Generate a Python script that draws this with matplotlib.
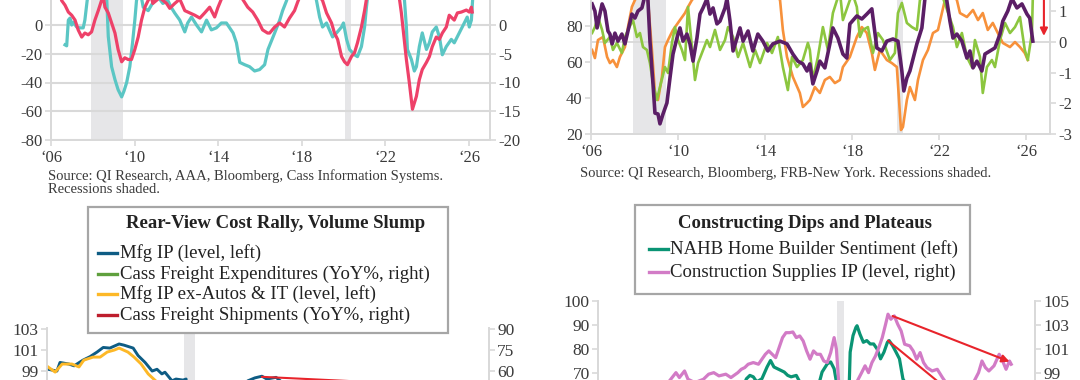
import matplotlib
matplotlib.use("Agg")
import matplotlib.pyplot as plt
from matplotlib.lines import Line2D
from matplotlib.patches import Rectangle

plt.rcParams['font.family'] = ['Liberation Serif', 'DejaVu Serif']
plt.rcParams['axes.unicode_minus'] = False

W, H = 1080, 380

recessions = [(2007.92, 2009.46), (2020.08, 2020.33)]
year_ticks = [2006, 2010, 2014, 2018, 2022, 2026]
year_labels = ['\u2018%02d' % (y % 100) for y in year_ticks]

# ---- top left: two YoY series (teal left axis, pink right axis) ----
tl_teal_x = [2006.67, 2006.75, 2006.83, 2006.91, 2006.99, 2007.06, 2007.23, 2007.38, 2007.54, 2007.62,
             2007.73, 2007.9, 2008.2, 2008.5, 2008.67, 2008.74, 2008.90, 2009.06, 2009.21, 2009.38,
             2009.49, 2009.62, 2009.77, 2009.90, 2010.01, 2010.09, 2010.25, 2010.41, 2010.65, 2010.81,
             2011.1, 2011.35, 2011.59, 2011.76, 2011.92, 2012.16, 2012.40, 2012.54, 2012.72, 2012.96,
             2013.20, 2013.44, 2013.67, 2013.91, 2014.15, 2014.39, 2014.71, 2014.87, 2015.03, 2015.26,
             2015.50, 2015.74, 2015.98, 2016.22, 2016.38, 2016.70, 2016.94, 2017.08, 2017.27, 2017.6,
             2018.0, 2018.5, 2018.70, 2018.85, 2018.99, 2019.18, 2019.32, 2019.47, 2019.66, 2019.90,
             2019.99, 2020.14, 2020.28, 2020.52, 2020.66, 2020.85, 2021.00, 2021.09, 2021.3, 2021.7,
             2022.2, 2022.8, 2022.91, 2023.00, 2023.05, 2023.24, 2023.38, 2023.48, 2023.62, 2023.76,
             2023.96, 2024.10, 2024.24, 2024.43, 2024.58, 2024.72, 2024.91, 2025.15, 2025.29, 2025.53,
             2025.77, 2025.91, 2026.01, 2026.11, 2026.2]
tl_teal_y = [-13.8, -14.5, 3.4, 4.8, 0, 2, -1.4, -2, -2, 3.4,
             17, 30, 40, 35, 17, -8, -29, -38, -45, -50,
             -46, -40, -29, -12.4, 3.4, 17, 25, 12.4, 10, 14,
             20, 15, 17, 12, 8.3, 3.4, -4.8, 1.4, 5.5, 0,
             -4.8, 3.4, -3.4, -2, 1.4, 1.4, -5.5, -12.4, -26, -27.6,
             -29, -32, -31, -27.6, -17, -5.5, 3.4, 10, 17, 35,
             40, 30, 17, 5.5, -1.4, 1.4, -3.4, -8.3, -5.5, -1.4,
             1.4, -10, -17, -20.7, -22, -15, -1.4, 12.4, 40, 60,
             55, 30, 17, -1.4, -17, -24, -32, -29, -15, -5.5,
             -17, -12.4, -4.8, -1.4, -8.3, -20.7, -15, -10, -12.4, -5.5,
             1.4, 5.5, -1.4, 3.4, 25]
tl_pink_x = [2006.3, 2006.51, 2006.67, 2006.83, 2006.99, 2007.15, 2007.30, 2007.47, 2007.62, 2007.78,
             2007.94, 2008.10, 2008.26, 2008.42, 2008.50, 2008.58, 2008.74, 2008.90, 2009.06, 2009.21,
             2009.38, 2009.53, 2009.69, 2009.85, 2010.01, 2010.17, 2010.33, 2010.49, 2010.65, 2010.8,
             2010.87, 2011.2, 2011.53, 2011.68, 2011.92, 2012.16, 2012.40, 2012.64, 2012.88, 2013.12,
             2013.35, 2013.59, 2013.83, 2013.98, 2014.15, 2014.5, 2014.9, 2015.41, 2015.65, 2015.89,
             2016.12, 2016.36, 2016.46, 2016.70, 2016.94, 2017.17, 2017.41, 2017.65, 2017.80, 2018.2,
             2018.6, 2018.99, 2019.18, 2019.42, 2019.56, 2019.71, 2019.90, 2020.04, 2020.18, 2020.37,
             2020.52, 2020.66, 2020.85, 2021.00, 2021.09, 2021.5, 2022.0, 2022.5, 2022.67, 2022.76,
             2023.00, 2023.14, 2023.29, 2023.48, 2023.62, 2023.76, 2023.96, 2024.10, 2024.24, 2024.43,
             2024.58, 2024.72, 2024.91, 2025.05, 2025.29, 2025.44, 2025.63, 2025.87, 2026.01, 2026.11,
             2026.15]
tl_pink_y = [7.5, 4.25, 3.45, 2.25, 1.7, 0.85, -0.85, -2.1, -1.4, -1.7,
             -1.2, 0.85, 2.5, 4.3, 5.0, 3.1, 2.1, 0.35, -1.4, -4.25,
             -6.4, -5.7, -6.0, -6.0, -4.25, -2.1, 0.85, 3.1, 4.3, 5.0,
             3.75, 4.75, 3.75, 2.9, 3.75, 4.5, 2.5, 2.1, 1.7, 1.2,
             2.1, 3.1, 1.4, 3.0, 4.5, 7.0, 6.0, 3.1, 2.25, 0.85,
             -0.85, -1.4, -1.4, -0.35, 0.35, -0.35, 1.2, 2.5, 4.0, 7.5,
             6.25, 4.25, 2.1, 0.35, -1.4, -2.5, -5.5, -6.4, -6.9, -5.5,
             -4.8, -3.1, -0.35, 2.5, 4.5, 12.5, 15, 10, 4.5, 2.1,
             -6.0, -10, -14.65, -12.4, -9.5, -7.75, -6.5, -5.5, -3.75, -2.1,
             -2.5, -1.4, -0.35, 1.7, 0.85, 2.1, 2.25, 2.6, 2.25, 3.1,
             2.25]

# ---- top right: orange & green (left axis), purple (right axis) ----
tr_orange_x = [2006.05, 2006.18, 2006.32, 2006.55, 2006.74, 2006.87, 2007.01, 2007.19, 2007.33, 2007.56,
               2007.70, 2007.88, 2008.02, 2008.3, 2008.62, 2008.80, 2008.94, 2009.08, 2009.26, 2009.40,
               2009.54, 2009.77, 2010.09, 2010.32, 2010.46, 2010.64, 2011.2, 2012.0, 2012.8, 2013.6,
               2014.3, 2014.69, 2014.82, 2015.01, 2015.28, 2015.60, 2015.74, 2015.93, 2016.06, 2016.29,
               2016.52, 2016.75, 2016.98, 2017.21, 2017.44, 2017.58, 2017.90, 2018.22, 2018.45, 2018.68,
               2018.91, 2019.05, 2019.28, 2019.60, 2019.83, 2020.06, 2020.25, 2020.34, 2020.52, 2020.66,
               2020.89, 2021.03, 2021.26, 2021.49, 2021.72, 2021.95, 2022.13, 2022.27, 2022.5, 2022.82,
               2022.96, 2023.28, 2023.56, 2023.79, 2024.01, 2024.24, 2024.47, 2024.70, 2024.93, 2025.26,
               2025.49, 2025.72, 2025.94, 2026.08]
tr_orange_y = [66.7, 62.2, 72.2, 73.9, 62.8, 59.4, 61.1, 57.2, 62.8, 68.3,
               79.4, 90.6, 94.4, 100, 94.4, 66.7, 42.8, 38.9, 51.7, 68.3,
               72.2, 77.8, 83.3, 87.2, 90.6, 94.4, 102, 98, 104, 99,
               101, 94.4, 77.8, 62.8, 51.7, 42.8, 35.0, 37.2, 38.9, 46.1,
               42.8, 50.0, 51.7, 48.3, 50.0, 57.2, 62.8, 73.9, 79.4, 76.1,
               65.0, 55.6, 66.7, 61.1, 59.4, 57.2, 22.2, 23.9, 38.9, 46.1,
               38.9, 50.0, 61.1, 66.7, 76.1, 77.8, 87.2, 94.4, 100, 94.4,
               87.2, 85.0, 88.9, 83.3, 87.2, 77.8, 81.7, 76.1, 70.6, 68.3,
               71.1, 68.3, 65.0, 61.1]
tr_green_x = [2006.05, 2006.18, 2006.32, 2006.51, 2006.64, 2006.87, 2007.01, 2007.19, 2007.42, 2007.56,
              2007.70, 2007.93, 2008.11, 2008.25, 2008.39, 2008.57, 2008.71, 2008.85, 2009.03, 2009.17,
              2009.40, 2009.54, 2009.72, 2009.86, 2010.00, 2010.18, 2010.32, 2010.46, 2010.64, 2010.78,
              2010.92, 2011.10, 2011.33, 2011.47, 2011.70, 2011.93, 2012.16, 2012.30, 2012.53, 2012.76,
              2012.99, 2013.31, 2013.54, 2013.77, 2014.09, 2014.32, 2014.59, 2014.82, 2015.05, 2015.24,
              2015.47, 2015.74, 2015.97, 2016.06, 2016.20, 2016.43, 2016.66, 2016.89, 2017.12, 2017.31,
              2017.45, 2017.58, 2017.90, 2018.05, 2018.22, 2018.36, 2018.50, 2018.73, 2018.96, 2019.19,
              2019.42, 2019.74, 2019.97, 2020.11, 2020.29, 2020.52, 2020.75, 2020.98, 2021.12, 2021.5,
              2022.0, 2022.64, 2022.82, 2023.05, 2023.28, 2023.51, 2023.65, 2023.88, 2024.01, 2024.20,
              2024.43, 2024.57, 2024.80, 2025.03, 2025.26, 2025.49, 2025.72, 2025.94, 2026.08, 2026.27,
              2026.31]
tr_green_y = [76.1, 79.4, 85.0, 77.8, 70.6, 73.9, 66.7, 70.6, 65.0, 73.9,
              77.8, 83.3, 73.9, 76.1, 68.3, 66.7, 59.4, 48.3, 38.9, 46.1,
              57.2, 53.9, 70.6, 79.4, 72.2, 66.7, 61.1, 90.6, 68.3, 50.0,
              59.4, 65.0, 72.2, 68.3, 77.8, 66.7, 72.2, 79.4, 73.9, 62.8,
              70.6, 57.2, 66.7, 59.4, 70.6, 65.0, 73.9, 57.2, 44.4, 62.8,
              57.2, 61.1, 70.6, 66.7, 50.0, 62.8, 79.4, 66.7, 87.2, 94.4,
              98, 83.3, 94.4, 97, 90.6, 73.9, 77.8, 79.4, 65.0, 76.1,
              72.2, 61.1, 65.0, 87.2, 92.8, 81.7, 79.4, 77.8, 94.4, 100,
              102, 79.4, 68.3, 76.1, 62.8, 57.2, 72.2, 62.8, 42.8, 57.2,
              61.1, 57.2, 72.2, 81.7, 76.1, 79.4, 85.0, 66.7, 61.1, 76.1,
              96]
tr_purple_x = [2006.05, 2006.18, 2006.28, 2006.41, 2006.51, 2006.64, 2006.78, 2006.87, 2006.97, 2007.10,
               2007.24, 2007.42, 2007.56, 2007.70, 2007.88, 2008.02, 2008.16, 2008.34, 2008.48, 2008.6,
               2008.71, 2008.85, 2008.94, 2009.08, 2009.17, 2009.31, 2009.49, 2009.63, 2009.77, 2009.95,
               2010.09, 2010.23, 2010.41, 2010.55, 2010.69, 2010.87, 2011.01, 2011.15, 2011.33, 2011.47,
               2011.61, 2011.79, 2011.93, 2012.16, 2012.25, 2012.39, 2012.53, 2012.71, 2012.85, 2012.99,
               2013.22, 2013.44, 2013.67, 2013.90, 2014.13, 2014.36, 2014.69, 2015.01, 2015.28, 2015.51,
               2015.74, 2015.93, 2016.06, 2016.20, 2016.39, 2016.52, 2016.75, 2016.98, 2017.12, 2017.35,
               2017.58, 2017.76, 2017.90, 2018.22, 2018.45, 2018.68, 2018.91, 2019.14, 2019.37, 2019.60,
               2019.88, 2020.11, 2020.29, 2020.38, 2020.52, 2020.66, 2020.98, 2021.21, 2021.35, 2021.6,
               2022.0, 2022.3, 2022.50, 2022.64, 2022.82, 2023.05, 2023.28, 2023.42, 2023.56, 2023.74,
               2023.97, 2024.11, 2024.34, 2024.57, 2024.80, 2024.93, 2025.16, 2025.35, 2025.58, 2025.81,
               2026.04, 2026.17, 2026.31]
tr_purple_y = [1.23, 1.0, 0.45, 0.90, 1.23, 1.0, 0.35, 0.25, -0.07, 0.28,
               0.02, 0.25, -0.07, 0.35, 0.90, 0.77, 1.0, 1.10, 1.5, 1.6,
               0.02, -1.37, -2.32, -2.35, -2.67, -2.35, -1.99, -1.18, -0.40, 0.12,
               0.45, 0.02, 0.25, -0.07, -0.63, 0.12, 0.90, 1.10, 1.4, 0.90,
               1.10, 0.58, 0.67, 1.10, 1.4, 0.67, -0.30, 0.12, 0.45, 0.02,
               0.35, -0.30, 0.25, 0.02, -0.30, -0.07, 0.02, -0.07, -0.40, -0.63,
               -0.72, -0.95, -0.72, -1.37, -0.95, -0.63, -0.85, -0.07, 0.45, 0.12,
               -0.40, -0.53, 0.58, 0.84, 0.74, 0.90, 1.07, -0.20, -0.30, 0.02,
               0.09, 0.02, -0.95, -1.60, -1.18, -0.95, -0.07, 0.45, 1.4, 1.8,
               2.0, 1.6, 0.67, 0.12, 0.25, 0.02, -0.53, -0.30, -0.85, -0.63,
               -0.95, -0.40, -0.30, -0.20, 0.25, 0.67, 1.0, 1.4, 1.10, 1.23,
               0.90, 0.77, 0.02]
tr_arrow = (2026.82, 2.0, 0.19)   # x, from, to (right axis)

# ---- bottom left: Rear-View Cost Rally, Volume Slump ----
bl_mfg_x = [2017.0, 2017.2, 2017.27, 2017.47, 2017.59, 2017.79, 2017.95, 2018.11, 2018.25, 2018.40,
            2018.61, 2018.72, 2018.93, 2019.04, 2019.20, 2019.36, 2019.47, 2019.58, 2019.65, 2019.81,
            2019.90, 2020.06, 2020.13, 2020.25, 2020.33, 2020.5, 2020.8, 2021.0, 2021.3, 2021.53,
            2021.69, 2021.85, 2021.96, 2022.17, 2022.28, 2022.6, 2023.0, 2023.5, 2024.0, 2024.5,
            2025.0, 2025.5, 2026.0]
bl_mfg_y = [99.17, 99.0, 99.82, 99.67, 99.5, 100.04, 100.37, 100.81, 101.25, 101.19,
            101.58, 101.47, 101.19, 100.48, 99.82, 99.0, 99.17, 98.73, 98.89, 98.07,
            98.24, 98.14, 98.24, 89.0, 83.0, 90.0, 94.2, 95.9, 97.1, 98.07,
            98.35, 98.51, 98.24, 98.4, 98.02, 97.74, 97.3, 97.1, 96.9, 97.0,
            97.1, 97.2, 97.3]
bl_exauto_x = [2017.0, 2017.16, 2017.32, 2017.54, 2017.7, 2017.81, 2018.02, 2018.18, 2018.34, 2018.5,
               2018.61, 2018.81, 2018.95, 2019.11, 2019.27, 2019.42, 2019.6, 2019.9, 2020.1, 2020.3,
               2020.5, 2021.0, 2022.0, 2023.0, 2024.0, 2025.0, 2026.0]
bl_exauto_y = [99.39, 98.9, 99.67, 99.67, 99.39, 100.04, 100.33, 100.33, 100.81, 101.0,
               101.19, 100.81, 100.33, 99.67, 98.73, 98.14, 97.5, 97.3, 97.1, 81.0,
               89.0, 94.2, 96.4, 95.9, 95.6, 95.9, 96.1]
bl_cass_exp_x = [2017.0, 2017.5, 2018.0, 2018.5, 2019.0, 2019.5, 2020.0, 2020.4, 2020.8, 2021.3,
                 2021.8, 2022.3, 2022.8, 2023.3, 2023.8, 2024.3, 2024.8, 2025.3, 2025.9]
bl_cass_exp_y = [2, 8, 15, 18, 4, -4, -8, -18, -6, 22,
                 32, 35, 12, -18, -24, -20, -12, -6, -4]
bl_cass_ship_x = bl_cass_exp_x
bl_cass_ship_y = [1, 5, 6, 8, -1, -5, -7, -22, -6, 12,
                  6, 4, -3, -8, -12, -5, -3, -6, -7]
bl_arrow = (2021.85, 98.45, 2025.9, 97.63)   # left axis

# ---- bottom right: Constructing Dips and Plateaus ----
br_nahb_x = [2012.0, 2012.5, 2013.0, 2013.5, 2014.0, 2014.5, 2015.0, 2015.5, 2016.0, 2016.5,
             2016.8, 2016.93, 2017.05, 2017.17, 2017.29, 2017.47, 2017.65, 2017.77, 2017.89, 2018.01,
             2018.13, 2018.25, 2018.37, 2018.49, 2018.67, 2018.79, 2018.95, 2019.2, 2019.45, 2019.57,
             2019.75, 2019.87, 2019.99, 2020.07, 2020.25, 2020.33, 2020.42, 2020.5, 2020.55, 2020.65,
             2020.75, 2020.79, 2020.89, 2021.01, 2021.13, 2021.25, 2021.37, 2021.49, 2021.61, 2021.73,
             2021.85, 2021.91, 2022.03, 2022.15, 2022.27, 2022.39, 2022.45, 2022.6, 2022.8, 2023.0,
             2023.4, 2023.6, 2023.9, 2024.3, 2024.8, 2025.2, 2025.6, 2026.0]
br_nahb_y = [25, 35, 47, 55, 56, 53, 57, 60, 60, 60,
             64, 67.6, 69.0, 68.4, 66.3, 67.6, 72.5, 75.2, 72.5, 71.8,
             71.1, 70.4, 69.0, 68.4, 69.0, 66.3, 60, 62, 65, 70.4,
             73.8, 74.6, 71.8, 66.3, 30, 30, 37, 58, 78.7, 85.6,
             89.0, 89.7, 86.2, 82.8, 83.5, 82.1, 82.1, 80.0, 75.9, 78.7,
             82.8, 83.5, 81.4, 78.7, 75.9, 67.6, 66.3, 55, 38, 35,
             50, 56, 37, 51, 43, 40, 32, 37]
br_supplies_x = [2012.0, 2013.0, 2014.0, 2014.23, 2014.47, 2014.59, 2014.77, 2014.89, 2015.13, 2015.43,
                 2015.61, 2015.79, 2015.97, 2016.21, 2016.39, 2016.63, 2016.75, 2016.87, 2016.99, 2017.17,
                 2017.35, 2017.47, 2017.59, 2017.71, 2017.83, 2017.95, 2018.07, 2018.19, 2018.31, 2018.43,
                 2018.55, 2018.67, 2018.79, 2018.91, 2019.03, 2019.15, 2019.27, 2019.39, 2019.51, 2019.63,
                 2019.75, 2019.87, 2019.99, 2020.07, 2020.15, 2020.3, 2020.5, 2020.77, 2020.95, 2021.07,
                 2021.19, 2021.31, 2021.43, 2021.55, 2021.67, 2021.79, 2021.87, 2021.97, 2022.09, 2022.21,
                 2022.33, 2022.45, 2022.63, 2022.75, 2022.87, 2022.99, 2023.11, 2023.23, 2023.41, 2023.59,
                 2023.77, 2023.89, 2024.2, 2024.6, 2024.85, 2025.03, 2025.15, 2025.27, 2025.39, 2025.57,
                 2025.75, 2025.87, 2025.99, 2026.11, 2026.17]
br_supplies_y = [95.0, 96.5, 97.8, 98.3, 99.03, 98.62, 99.17, 98.48, 98.2, 98.48,
                 98.9, 99.03, 98.76, 98.9, 98.62, 99.03, 99.31, 99.45, 99.73, 99.87,
                 99.73, 100.15, 100.56, 100.84, 100.56, 100.28, 101.12, 101.95, 102.36, 102.36,
                 102.42, 101.95, 102.09, 101.67, 100.84, 100.15, 100.84, 100.56, 100.56, 100.0,
                 99.87, 100.7, 101.95, 100.98, 98.2, 94.0, 96.0, 98.2, 99.03, 99.6,
                 99.03, 99.87, 100.4, 101.12, 101.95, 103.1, 103.9, 103.48, 103.76, 103.06,
                 102.5, 101.4, 101.26, 100.84, 100.15, 100.7, 99.87, 99.45, 99.17, 99.31,
                 98.62, 98.2, 97.8, 98.0, 98.2, 99.03, 100.0, 99.45, 99.17, 99.6,
                 100.56, 100.0, 99.31, 100.0, 99.73]
br_arrow_supplies = (2022.03, 103.75, 2026.11, 99.95)   # right axis
br_arrow_nahb = (2021.87, 83.5, 2025.9, 44.0)           # left axis

GRID = '#D9D9D9'
TXT = '#3A3A3A'
SHADE = '#E6E6E8'
RED = '#E8242B'


def px_axes(fig, x0, x1, ytop, ybot):
    return fig.add_axes([x0 / W, 1 - ybot / H, (x1 - x0) / W, (ybot - ytop) / H])


def style(ax, size=12):
    ax.spines['top'].set_visible(False)
    for s in ['left', 'right', 'bottom']:
        ax.spines[s].set_color(GRID)
        ax.spines[s].set_linewidth(1.3)
    ax.tick_params(colors=GRID, labelcolor=TXT, labelsize=size, length=4, width=1.2, pad=2)
    ax.patch.set_alpha(0)


def shade(ax, spans):
    for a, b in spans:
        ax.axvspan(a, b, color=SHADE, lw=0, zorder=0)


def red_arrow(ax, x0, y0, x1, y1):
    ax.annotate('', xy=(x1, y1), xytext=(x0, y0),
                arrowprops=dict(arrowstyle='-|>', color=RED, lw=1.5, mutation_scale=11,
                                shrinkA=0, shrinkB=0), annotation_clip=False)


def legend_box(fig, box, title, title_xy, lines, labels, rows, hx, tx):
    x0, y0, x1, y1 = box
    fig.patches.append(Rectangle((x0 / W, 1 - y1 / H), (x1 - x0) / W, (y1 - y0) / H,
                                 transform=fig.transFigure, fc='white', ec='#A6A6A6', lw=1.6, zorder=5))
    fig.text(title_xy[0] / W, 1 - title_xy[1] / H, title, ha='center', va='center',
             fontsize=13.5, fontweight='bold', color='#222222', zorder=6)
    for line, label, y in zip(lines, labels, rows):
        fig.add_artist(Line2D([hx[0] / W, hx[1] / W], [1 - y / H, 1 - y / H], color=line.get_color(),
                              lw=2.4, transform=fig.transFigure, zorder=6))
        fig.text(tx / W, 1 - y / H, label, va='center', fontsize=13.5, color='#222222', zorder=6)


fig = plt.figure(figsize=(W / 100, H / 100), dpi=100)

# top left
ax = px_axes(fig, 51, 490, -32.5, 140)
style(ax)
ax.set_xlim(2006, 2027)
ax.set_ylim(-80, 40)
ax.set_yticks(range(-80, 1, 20))
ax.yaxis.grid(True, color=GRID, lw=1.5)
ax.set_axisbelow(True)
ax.set_xticks(year_ticks, year_labels)
ax.tick_params(axis='x', pad=3)
shade(ax, recessions)
ax.plot(tl_teal_x, tl_teal_y, color='#5BC6C4', lw=2.3, zorder=3)
ax2 = ax.twinx()
style(ax2)
ax2.set_ylim(-20, 10)
ax2.set_yticks(range(-20, 1, 5))
ax2.plot(tl_pink_x, tl_pink_y, color='#EE4169', lw=2.3)
fig.text(48 / W, 1 - 176 / H, 'Source: QI Research, AAA, Bloomberg, Cass Information Systems.',
         fontsize=10.5, color=TXT, va='center')
fig.text(48 / W, 1 - 189.5 / H, 'Recessions shaded.', fontsize=10.5, color=TXT, va='center')

# top right
ax = px_axes(fig, 591, 1050, -46, 134)
style(ax)
ax.set_xlim(2006, 2027.1)
ax.set_ylim(20, 120)
ax.set_yticks(range(20, 81, 20))
ax.set_xticks(year_ticks, year_labels)
ax.tick_params(axis='x', pad=3)
shade(ax, recessions)
ax2 = ax.twinx()
style(ax2)
ax2.set_ylim(-3, 2.854)
ax2.set_yticks([-3, -2, -1, 0, 1])
zero_left = 20 + 3 / 5.854 * 100
ax.axhline(zero_left, color=GRID, lw=1.3, zorder=1)
ax.plot(tr_orange_x, tr_orange_y, color='#F7913B', lw=1.9, zorder=3)
ax.plot(tr_green_x, tr_green_y, color='#8CC63F', lw=1.9, zorder=4)
ax2.plot(tr_purple_x, tr_purple_y, color='#5B1E66', lw=2.6)
red_arrow(ax2, tr_arrow[0], tr_arrow[1], tr_arrow[0], tr_arrow[2])
fig.text(580 / W, 1 - 173 / H, 'Source: QI Research, Bloomberg, FRB-New York. Recessions shaded.',
         fontsize=10.5, color=TXT, va='center')

# bottom left
ax = px_axes(fig, 47, 489, 327.5, 539)
style(ax, 12.5)
ax.set_xlim(2016.975, 2027.0)
ax.set_ylim(83, 103.15)
ax.set_yticks([99, 101, 103])
ax.set_xticks([])
shade(ax, recessions[1:])
l1, = ax.plot(bl_mfg_x, bl_mfg_y, color='#0E5C84', lw=2.1, zorder=3)
l3, = ax.plot(bl_exauto_x, bl_exauto_y, color='#FDB827', lw=2.1, zorder=3)
red_arrow(ax, *bl_arrow)
ax2 = ax.twinx()
style(ax2, 12.5)
ax2.set_ylim(-60, 91.1)
ax2.set_yticks([60, 75, 90])
l2, = ax2.plot(bl_cass_exp_x, bl_cass_exp_y, color='#5FA03D', lw=2.1)
l4, = ax2.plot(bl_cass_ship_x, bl_cass_ship_y, color='#BE1E2D', lw=2.1)
legend_box(fig, (88, 207, 448, 333), 'Rear-View Cost Rally, Volume Slump', (276, 224),
           [l1, l2, l3, l4],
           ['Mfg IP (level, left)', 'Cass Freight Expenditures (YoY%, right)',
            'Mfg IP ex-Autos & IT (level, left)', 'Cass Freight Shipments (YoY%, right)'],
           [253, 274, 294, 315], (98, 117), 119.5)

# bottom right
ax = px_axes(fig, 598, 1035, 301, 541)
style(ax, 12.5)
ax.set_xlim(2011.75, 2027.0)
ax.set_ylim(0, 100)
ax.set_yticks([70, 80, 90, 100])
ax.set_xticks([])
shade(ax, recessions[1:])
g1, = ax.plot(br_nahb_x, br_nahb_y, color='#0A9474', lw=2.3, zorder=3)
red_arrow(ax, *br_arrow_nahb)
ax2 = ax.twinx()
style(ax2, 12.5)
ax2.set_ylim(85, 105)
ax2.set_yticks([99, 101, 103, 105])
g2, = ax2.plot(br_supplies_x, br_supplies_y, color='#D27BC6', lw=2.3)
red_arrow(ax2, *br_arrow_supplies)
legend_box(fig, (635, 205, 970, 294), 'Constructing Dips and Plateaus', (805, 223),
           [g1, g2], ['NAHB Home Builder Sentiment (left)', 'Construction Supplies IP (level, right)'],
           [249, 272], (649, 668), 670)

fig.savefig('out.png', dpi=100)
